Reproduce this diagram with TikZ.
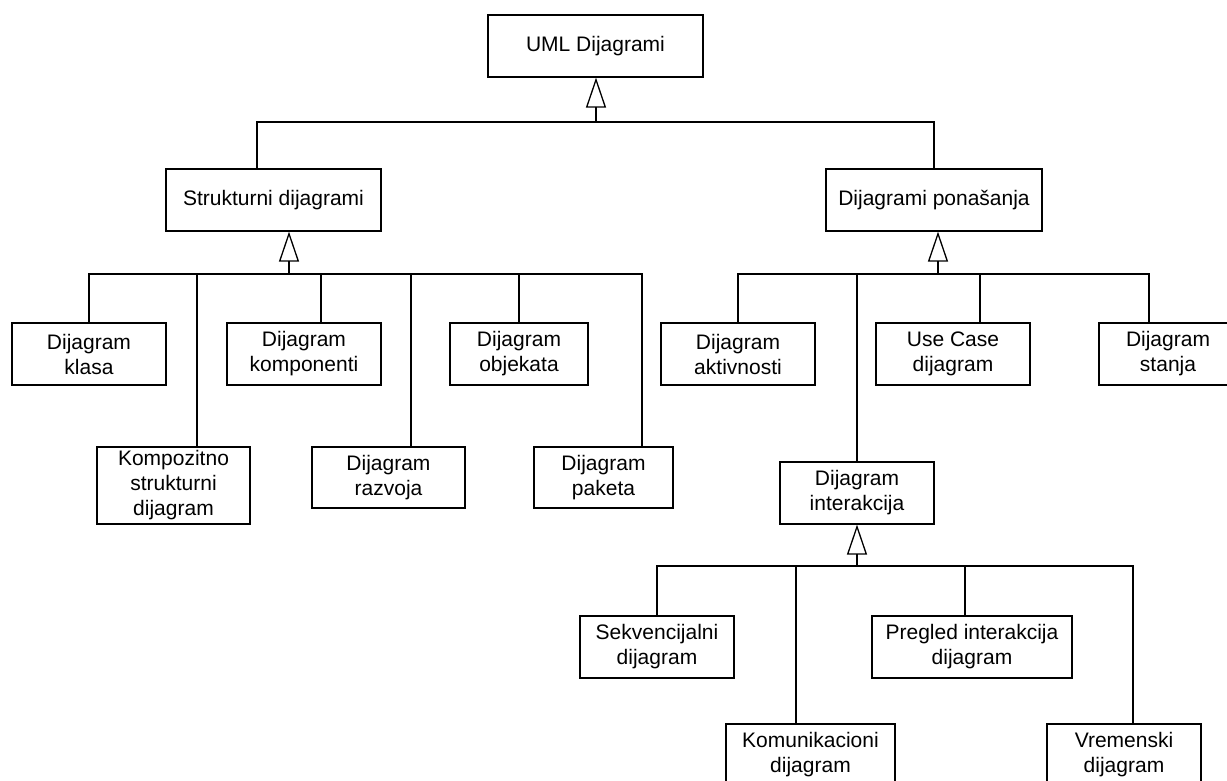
\documentclass[tikz,border=0pt]{standalone}
\usepackage{fontspec}
\setmainfont{Liberation Sans}
\usetikzlibrary{arrows.meta}

\begin{document}
\begin{tikzpicture}[x=1pt, y=-1pt, line width=1.3pt,
  box/.style={draw, fill=white, inner sep=0pt, align=center,
    font=\fontsize{21}{25}\selectfont},
  gen/.style={-{Triangle[open, length=30pt, width=20pt, line width=1.3pt]}},
  link/.style={line cap=rect}]
  \useasboundingbox (0,0) rectangle (1227,781);
  \clip (0,0) rectangle (1227,781);

  % class hierarchy boxes
  \node[box, minimum width=215pt, minimum height=62pt] (uml)     at (595.5,46)  {UML Dijagrami};
  \node[box, minimum width=215pt, minimum height=62pt] (strukt)  at (273.5,200) {Strukturni dijagrami};
  \node[box, minimum width=216pt, minimum height=62pt] (pona)    at (934,200)   {Dijagrami ponašanja};

  \node[box, minimum width=154pt, minimum height=62pt] (klasa)   at (89,354)    {Dijagram\\klasa};
  \node[box, minimum width=153pt, minimum height=77pt] (kompo)   at (173.5,485.5) {Kompozitno\\strukturni\\dijagram};
  \node[box, minimum width=154pt, minimum height=62pt] (kompon)  at (304,354)   {Dijagram\\komponenti};
  \node[box, minimum width=153pt, minimum height=61pt] (razvoj)  at (388.5,477.5) {Dijagram\\razvoja};
  \node[box, minimum width=138pt, minimum height=62pt] (objek)   at (519,354)   {Dijagram\\objekata};
  \node[box, minimum width=139pt, minimum height=61pt] (paket)   at (603.5,477.5) {Dijagram\\paketa};

  \node[box, minimum width=154pt, minimum height=62pt] (aktiv)   at (738,354)   {Dijagram\\aktivnosti};
  \node[box, minimum width=154pt, minimum height=62pt] (usecase) at (953,354)   {Use Case\\dijagram};
  \node[box, minimum width=138pt, minimum height=62pt] (stanja)  at (1168,354)  {Dijagram\\stanja};
  \node[box, minimum width=154pt, minimum height=62pt] (interak) at (857,493)   {Dijagram\\interakcija};

  \node[box, minimum width=154pt, minimum height=62pt] (sekv)    at (657,647)   {Sekvencijalni\\dijagram};
  \node[box, minimum width=200pt, minimum height=62pt] (pregled) at (972,647)   {Pregled interakcija\\dijagram};
  \node[box, minimum width=169pt, minimum height=62pt] (komun)   at (810.5,755) {Komunikacioni\\dijagram};
  \node[box, minimum width=154pt, minimum height=62pt] (vrem)    at (1124,755)  {Vremenski\\dijagram};

  % junction points of the generalization bars
  \coordinate (ubar) at (596,122);
  \coordinate (sbar) at (289,274);
  \coordinate (pbar) at (938,274);
  \coordinate (ibar) at (857,566);

  % UML Dijagrami
  \draw[link] (ubar) -| ([xshift=-16.5pt]strukt.north);
  \draw[link] (ubar) -| (pona.north);
  \draw[gen] (ubar) -- (uml.south -| ubar);

  % Strukturni dijagrami
  \draw[link] (sbar) -| (klasa.north);
  \draw[link] (sbar) -| ([xshift=23.5pt]kompo.north);
  \draw[link] (sbar) -| ([xshift=17pt]kompon.north);
  \draw[link] (sbar) -| ([xshift=22.5pt]razvoj.north);
  \draw[link] (sbar) -| (objek.north);
  \draw[link] (sbar) -| ([xshift=38.5pt]paket.north);
  \draw[gen] (sbar) -- (strukt.south -| sbar);

  % Dijagrami ponasanja
  \draw[link] (pbar) -| (aktiv.north);
  \draw[link] (pbar) -| (interak.north);
  \draw[link] (pbar) -| ([xshift=27pt]usecase.north);
  \draw[link] (pbar) -| ([xshift=-19pt]stanja.north);
  \draw[gen] (pbar) -- (pona.south -| pbar);

  % Dijagram interakcija
  \draw[link] (ibar) -| (sekv.north);
  \draw[link] (ibar) -| ([xshift=-14.5pt]komun.north);
  \draw[link] (ibar) -| ([xshift=-7pt]pregled.north);
  \draw[link] (ibar) -| ([xshift=9pt]vrem.north);
  \draw[gen] (ibar) -- (interak.south -| ibar);
\end{tikzpicture}
\end{document}
